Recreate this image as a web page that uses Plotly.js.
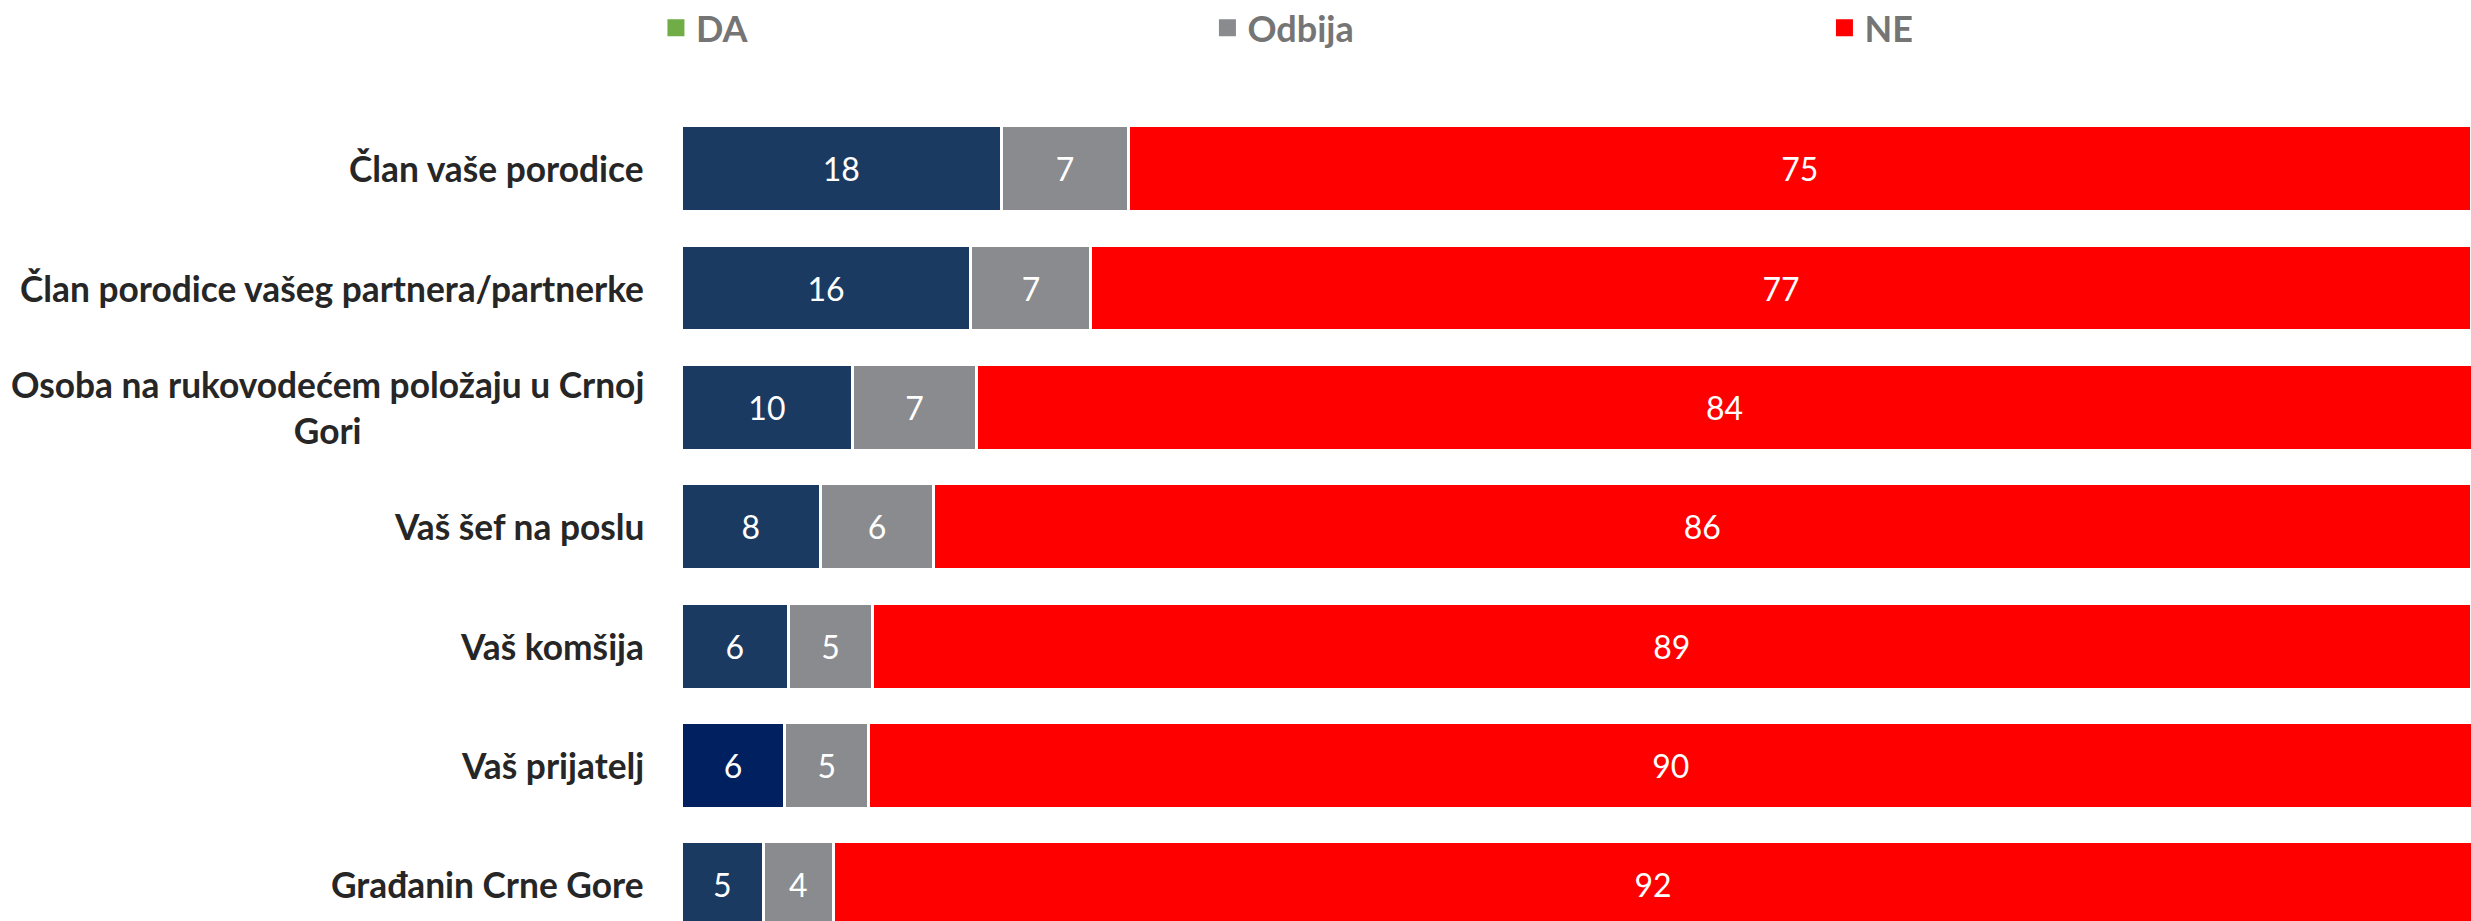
<!DOCTYPE html>
<html>
<head>
<meta charset="utf-8">
<script src="https://cdn.plot.ly/plotly-3.0.1.min.js"></script>
<style>
html,body{margin:0;padding:0;background:#ffffff;}
#chart{width:2471px;height:921px;}
</style>
</head>
<body>
<div id="chart"></div>
<script>
// ---- data ----
const categories = [
  "Član vaše porodice",
  "Član porodice vašeg partnera/partnerke",
  "Osoba na rukovodećem položaju u Crnoj<br>Gori",
  "Vaš šef na poslu",
  "Vaš komšija",
  "Vaš prijatelj",
  "Građanin Crne Gore"
];
const seriesNames = ["DA", "Odbija", "NE"];
const daValues     = [17.9, 16.2, 9.6, 7.8, 6.0, 5.8, 4.6];
const odbijaValues = [7.1, 6.7, 6.9, 6.3, 4.7, 4.7, 3.9];
const neValues     = [75.0, 77.1, 83.6, 85.9, 89.3, 89.6, 91.6];

// ---- styles ----
const FONT = "Lato, 'Open Sans', 'DejaVu Sans', sans-serif";
const navy = "#1B3A62";
const daBarColors = [navy, navy, navy, navy, navy, "#002060", navy];
const greyColor = "#898B8E";
const redColor = "#FF0000";
const greenLegend = "#70AD47";

const common = {
  type: "bar",
  orientation: "h",
  y: categories,
  texttemplate: "%{x:.0f}",
  textposition: "inside",
  insidetextanchor: "middle",
  textangle: 0,
  constraintext: "none",
  insidetextfont: {family: FONT, size: 32, color: "#ffffff"},
  hoverinfo: "skip",
  showlegend: false
};

const traces = [
  Object.assign({}, common, {
    name: seriesNames[0], x: daValues,
    marker: {color: daBarColors, line: {color: "#ffffff", width: 3}}
  }),
  Object.assign({}, common, {
    name: seriesNames[1], x: odbijaValues,
    marker: {color: greyColor, line: {color: "#ffffff", width: 3}}
  }),
  Object.assign({}, common, {
    name: seriesNames[2], x: neValues,
    marker: {color: redColor, line: {color: "#ffffff", width: 3}}
  }),
  // legend keys
  {type: "bar", orientation: "h", name: seriesNames[0], x: [null], y: [null], legend: "legend",
   marker: {color: greenLegend, line: {color: greenLegend, width: 5}}, hoverinfo: "skip", showlegend: true},
  {type: "bar", orientation: "h", name: seriesNames[1], x: [null], y: [null], legend: "legend2",
   marker: {color: greyColor, line: {color: greyColor, width: 5}}, hoverinfo: "skip", showlegend: true},
  {type: "bar", orientation: "h", name: seriesNames[2], x: [null], y: [null], legend: "legend3",
   marker: {color: redColor, line: {color: redColor, width: 5}}, hoverinfo: "skip", showlegend: true}
];

const legendFont = {family: FONT, size: 36, color: "#757575", weight: "bold"};
const legendBase = {
  orientation: "h", xanchor: "left", yanchor: "middle", y: 1.1,
  font: legendFont, bgcolor: "rgba(0,0,0,0)", borderwidth: 0
};

const layout = {
  width: 2471,
  height: 921,
  margin: {l: 681, r: 0, t: 109, b: 0, pad: 0, autoexpand: false},
  paper_bgcolor: "#ffffff",
  plot_bgcolor: "#ffffff",
  barmode: "stack",
  bargap: 0.28,
  font: {family: FONT},
  xaxis: {range: [0, 100], visible: false, fixedrange: true},
  yaxis: {
    type: "category", categoryorder: "array", categoryarray: categories,
    range: [6.304, -0.5], showticklabels: false, showgrid: false,
    zeroline: false, showline: false, ticks: "", fixedrange: true
  },
  showlegend: true,
  legend: Object.assign({}, legendBase, {x: -0.0140}),
  legend2: Object.assign({}, legendBase, {x: 0.2941}),
  legend3: Object.assign({}, legendBase, {x: 0.6388}),
  annotations: categories.map(c => ({
    xref: "paper", x: 0, yref: "y", y: c,
    xanchor: "right", yanchor: "middle", xshift: -35,
    align: "center", showarrow: false, text: c,
    font: {family: FONT, size: 35.3, color: "#262626", weight: "bold"}
  }))
};

Plotly.newPlot("chart", traces, layout, {displayModeBar: false, staticPlot: true});
</script>
</body>
</html>
